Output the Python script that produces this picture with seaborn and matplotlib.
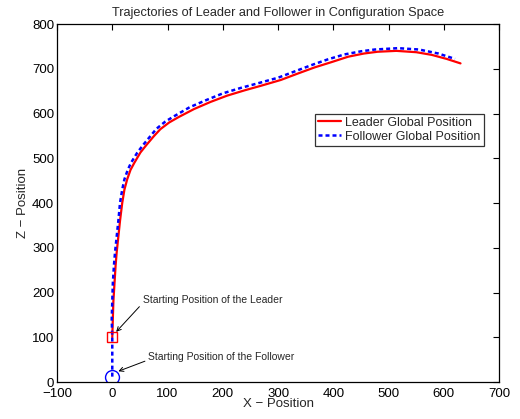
import matplotlib
matplotlib.use("Agg")
import matplotlib.pyplot as plt
import seaborn as sns
import pandas as pd

leader_x = [0, 1, 2, 4, 6, 8, 11, 14, 18, 22, 27, 33, 40, 51, 62, 75, 87, 103, 120, 148, 178, 208, 240, 269,
            305, 335, 366, 397, 427, 455, 480, 514, 550, 578, 605, 630]
leader_z = [100, 140, 180, 220, 260, 290, 325, 360, 400, 430, 453, 474, 490, 513, 530, 549, 565, 580, 592, 610,
            626, 640, 652, 662, 675, 689, 703, 715, 727, 734, 738, 740, 737, 731, 722, 712]
follower_x = [0, 0, -1, 0, 1, 3, 5, 8, 11, 14, 18, 22, 28, 34, 45, 56, 68, 80, 96, 112, 140, 170, 200, 232, 262,
              300, 330, 360, 390, 420, 450, 475, 517, 555, 590, 620]
follower_z = [12, 100, 140, 180, 220, 260, 290, 325, 360, 400, 430, 453, 474, 490, 512, 530, 548, 566, 582, 594,
              614, 630, 645, 657, 667, 680, 694, 708, 721, 732, 739, 743, 746, 743, 734, 722]

x_ticks = [-100, 0, 100, 200, 300, 400, 500, 600, 700]
z_ticks = [0, 100, 200, 300, 400, 500, 600, 700, 800]

sns.set_style("white")
plt.rcParams['font.family'] = ['Liberation Sans', 'DejaVu Sans']

fig = plt.figure(figsize=(5.2, 4.19), dpi=100)
ax = fig.add_axes([0.1096, 0.0883, 0.8504, 0.8544])

leader = pd.DataFrame({"x": leader_x, "z": leader_z})
follower = pd.DataFrame({"x": follower_x, "z": follower_z})

sns.lineplot(data=leader, x="x", y="z", sort=False, estimator=None, ax=ax, color="#ff0000",
             linewidth=1.6, label="Leader Global Position")
sns.lineplot(data=follower, x="x", y="z", sort=False, estimator=None, ax=ax, color="#0000ff",
             linewidth=1.8, linestyle=(0, (1.6, 1.2)), label="Follower Global Position")

ax.plot([leader_x[0]], [leader_z[0]], marker="s", ms=7, mfc="none", mec="#ff0000", mew=1.0, ls="none")
ax.plot([follower_x[0]], [follower_z[0]], marker="o", ms=10, mfc="none", mec="#0000ff", mew=1.0, ls="none")

ax.annotate("Starting Position of the Leader", xy=(7, 112), xytext=(55, 183),
            fontsize=7.5, ha="left", va="center",
            arrowprops=dict(arrowstyle="->", color="black", lw=0.7, shrinkA=0, shrinkB=0,
                            relpos=(0, 0.2)))
ax.annotate("Starting Position of the Follower", xy=(11, 24), xytext=(65, 56),
            fontsize=7.5, ha="left", va="center",
            arrowprops=dict(arrowstyle="->", color="black", lw=0.7, shrinkA=0, shrinkB=0,
                            relpos=(0, 0.2)))

ax.set_xlim(-100, 700)
ax.set_ylim(0, 800)
ax.set_xticks(x_ticks)
ax.set_yticks(z_ticks)
ax.set_xticklabels([str(t).replace("-", "\u2212") for t in x_ticks])
ax.tick_params(direction="in", length=4, width=0.8, top=True, right=True,
               labelsize=9.5, pad=2, colors="black")
ax.tick_params(axis="x", pad=4)
for s in ax.spines.values():
    s.set_color("black")
    s.set_linewidth(0.9)

ax.set_xlabel("X \u2212 Position", fontsize=9.5, labelpad=-1)
ax.set_ylabel("Z \u2212 Position", fontsize=9.5, labelpad=2)
ax.set_title("Trajectories of Leader and Follower in Configuration Space", fontsize=9.2, pad=6)

leg = ax.legend(loc="upper right", bbox_to_anchor=(0.965, 0.75), fontsize=9, frameon=True,
                fancybox=False, edgecolor="black", handlelength=1.9, handletextpad=0.3,
                borderpad=0.25, labelspacing=0.15, borderaxespad=0)
leg.get_frame().set_linewidth(0.9)

fig.savefig("out.png", dpi=100)
